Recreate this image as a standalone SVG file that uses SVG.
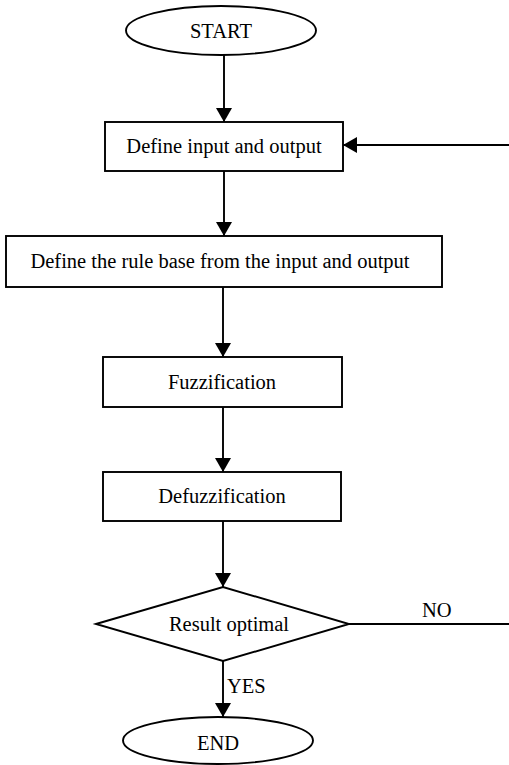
<svg xmlns="http://www.w3.org/2000/svg" width="509" height="765" viewBox="0 0 509 765">
<style>
.shape{fill:#fff;stroke:#000;stroke-width:1.9}
.line{fill:none;stroke:#000;stroke-width:1.9}
text{font-family:"Liberation Serif","Times New Roman",serif;font-size:20.5px;fill:#000}
.c{text-anchor:middle}
</style>
<defs>
<marker id="arr" markerUnits="userSpaceOnUse" markerWidth="15" markerHeight="17" refX="14" refY="8.5" orient="auto">
<path d="M0,0.5 L14,8.5 L0,16.5 z" fill="#000"/>
</marker>
</defs>
<rect width="509" height="765" fill="#fff"/>
<g id="connectors">
<line class="line" x1="224" y1="55" x2="224" y2="122" marker-end="url(#arr)"/>
<line class="line" x1="224" y1="171" x2="224" y2="236" marker-end="url(#arr)"/>
<line class="line" x1="223" y1="287" x2="223" y2="357" marker-end="url(#arr)"/>
<line class="line" x1="223" y1="407" x2="223" y2="472" marker-end="url(#arr)"/>
<line class="line" x1="223" y1="521" x2="223" y2="587" marker-end="url(#arr)"/>
<line class="line" x1="223" y1="661" x2="223" y2="717" marker-end="url(#arr)"/>
<line class="line" x1="349" y1="624" x2="509" y2="624"/>
<line class="line" x1="509" y1="145" x2="343" y2="145" marker-end="url(#arr)"/>
<text x="422" y="617">NO</text>
<text x="227" y="693">YES</text>
</g>
<g id="start">
<ellipse class="shape" cx="221" cy="30.5" rx="95" ry="24.5"/>
<text class="c" x="221" y="38">START</text>
</g>
<g id="define-io">
<rect class="shape" x="105" y="122" width="238" height="49"/>
<text class="c" x="224" y="153">Define input and output</text>
</g>
<g id="rule-base">
<rect class="shape" x="6" y="236" width="436" height="51"/>
<text class="c" x="220" y="268">Define the rule base from the input and output</text>
</g>
<g id="fuzzification">
<rect class="shape" x="103" y="357" width="239" height="50"/>
<text class="c" x="222" y="389">Fuzzification</text>
</g>
<g id="defuzzification">
<rect class="shape" x="103" y="472" width="238" height="49"/>
<text class="c" x="222" y="503">Defuzzification</text>
</g>
<g id="decision">
<polygon class="shape" points="96,624 223,587 349,624 223,661"/>
<text class="c" x="229" y="631">Result optimal</text>
</g>
<g id="end">
<ellipse class="shape" cx="218" cy="740.5" rx="95" ry="23.5"/>
<text class="c" x="218" y="750">END</text>
</g>
</svg>
